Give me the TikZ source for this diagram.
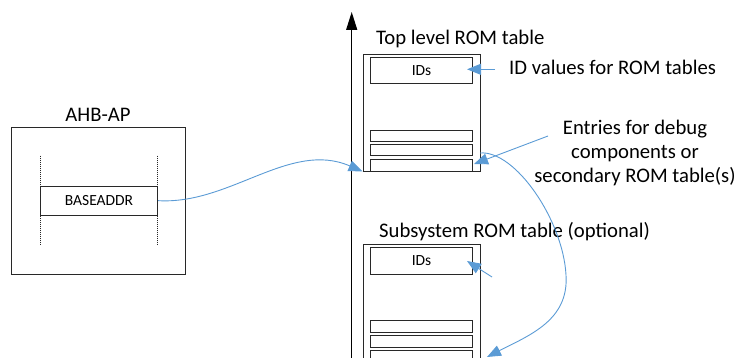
\documentclass[tikz,border=0pt]{standalone}
\usepackage{fontspec}
\setmainfont{Carlito}
\usetikzlibrary{arrows.meta}
\definecolor{arrowblue}{RGB}{91,155,213}
\definecolor{boxline}{RGB}{40,40,40}
\tikzset{
  box/.style={draw=boxline, line width=0.9pt, rectangle, inner sep=0pt},
  bigtext/.style={inner sep=0pt, font=\fontsize{20.7}{24}\selectfont},
  smalltext/.style={font=\fontsize{15.5}{18}\selectfont},
  bluearrow/.style={draw=arrowblue, line width=0.9pt, -{Triangle[length=14pt,width=11pt]}},
  dottedline/.style={draw=boxline, line width=0.8pt, dash pattern=on 1pt off 1pt},
}
\begin{document}
\begin{tikzpicture}[x=1pt,y=-1pt]
\useasboundingbox (0,0) rectangle (735,358);
\clip (0,0) rectangle (735,358);

% AHB-AP
\node[box, minimum width=174.7pt, minimum height=147pt] (ahb) at (98.35,200.8) {};
\node[bigtext] (ahbtitle) at (98,115) {AHB-AP};
\node[box, smalltext, minimum width=117.4pt, minimum height=29.3pt] (base) at (99,200.65) {BASEADDR};
\coordinate (dl1) at (40.3,155.7); \coordinate (dl1b) at (40.3,245);
\coordinate (dl2) at (157.7,155.7); \coordinate (dl2b) at (157.7,245);
\draw[dottedline] (dl1) -- (dl1b);
\draw[dottedline] (dl2) -- (dl2b);

% axis
\coordinate (axb) at (351.7,365);
\coordinate (axt) at (351.7,12);
\draw[black, line width=1.3pt, -{Triangle[length=18pt,width=11pt]}] (axb) -- (axt);

% Top level ROM table
\node[bigtext, anchor=base west] (toptitle) at (376,45) {Top level ROM table};
\node[box, minimum width=117pt, minimum height=117pt] (top) at (421.5,112.5) {};
\node[box, smalltext, minimum width=102.4pt, minimum height=25.7pt] (tids) at (421.5,70.2) {IDs};
\node[box, minimum width=102.4pt, minimum height=11pt] (tr1) at (421.5,136.2) {};
\node[box, minimum width=102.4pt, minimum height=11.3pt] (tr2) at (421.5,150.3) {};
\node[box, minimum width=102.4pt, minimum height=11.7pt] (tr3) at (421.5,165.15) {};

% Subsystem ROM table
\node[bigtext, anchor=base west] (subtitle) at (379,237) {Subsystem ROM table (optional)};
\node[box, minimum width=117pt, minimum height=125.7pt] (sub) at (421.5,307.15) {};
\node[box, smalltext, minimum width=102.4pt, minimum height=26.3pt] (sids) at (421.5,260.85) {IDs};
\node[box, minimum width=102.4pt, minimum height=12pt] (sr1) at (421.5,326.7) {};
\node[box, minimum width=102.4pt, minimum height=11.6pt] (sr2) at (421.5,341.5) {};
\node[box, minimum width=102.4pt, minimum height=11.7pt] (sr3) at (421.5,356.15) {};

% labels
\node[bigtext, anchor=base west] (idlabel) at (509,75) {ID values for ROM tables};
\node[bigtext, align=center] (entries) at (635,153) {Entries for debug\\components or\\secondary ROM table(s)};

% connectors
\coordinate (idsrc) at (495,69.3);
\coordinate (idtip) at (467,69.3);
\draw[bluearrow] (idsrc) -- (idtip);

\coordinate (entsrc) at (548,136);
\coordinate (enttip) at (474,164);
\draw[bluearrow] (entsrc) -- (enttip);

\coordinate (sidsrc) at (492,277);
\coordinate (sidtip) at (467,261);
\draw[bluearrow] (sidsrc) -- (sidtip);

\draw[bluearrow] (base.east) .. controls (230,205) and (290,140) .. (top.south west);

\coordinate (loopstart) at (480,153);
\coordinate (loopmid) at (566,275);
\coordinate (looptip) at (487,357);
\draw[bluearrow] (loopstart) .. controls (515,150) and (563,220) .. (loopmid)
  .. controls (569,320) and (530,335) .. (looptip);
\end{tikzpicture}
\end{document}
